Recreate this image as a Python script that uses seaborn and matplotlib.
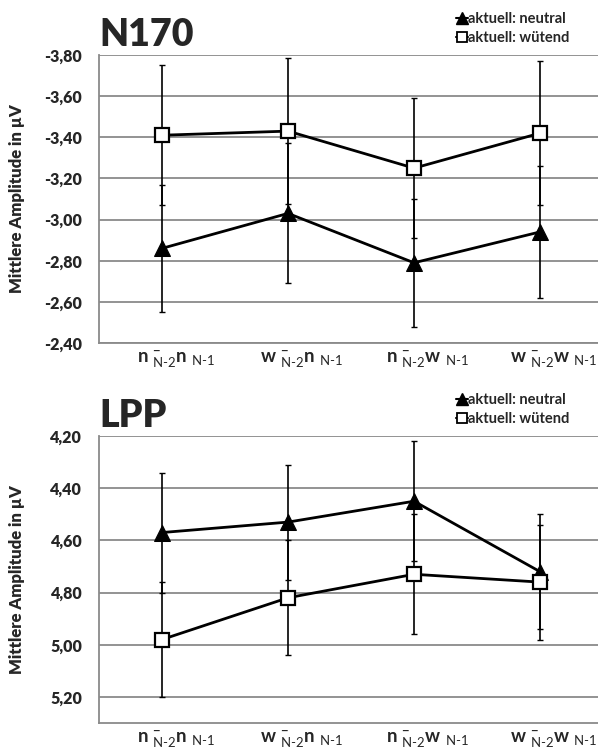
import numpy as np
import pandas as pd
import matplotlib
matplotlib.use("Agg")
from matplotlib import pyplot as plt
from matplotlib.lines import Line2D
import seaborn as sns

# values
conditions = ["nn", "wn", "nw", "ww"]
tick_labels = [
    r"$\mathbf{n}\ {}^{\mathbf{-}}_{\text{N-2}}\mathbf{n}\ {}_{\text{N-1}}$",
    r"$\mathbf{w}\ {}^{\mathbf{-}}_{\text{N-2}}\mathbf{n}\ {}_{\text{N-1}}$",
    r"$\mathbf{n}\ {}^{\mathbf{-}}_{\text{N-2}}\mathbf{w}\ {}_{\text{N-1}}$",
    r"$\mathbf{w}\ {}^{\mathbf{-}}_{\text{N-2}}\mathbf{w}\ {}_{\text{N-1}}$",
]
series_names = ["aktuell: neutral", "aktuell: wütend"]

n170_neutral = [-2.86, -3.03, -2.79, -2.94]
n170_neutral_err = [0.31, 0.34, 0.31, 0.32]
n170_angry = [-3.41, -3.43, -3.25, -3.42]
n170_angry_err = [0.34, 0.355, 0.34, 0.35]
n170_ticks = [-3.8, -3.6, -3.4, -3.2, -3.0, -2.8, -2.6, -2.4]

lpp_neutral = [4.57, 4.53, 4.45, 4.72]
lpp_neutral_err = [0.23, 0.22, 0.23, 0.22]
lpp_angry = [4.98, 4.82, 4.73, 4.76]
lpp_angry_err = [0.22, 0.22, 0.23, 0.22]
lpp_ticks = [4.2, 4.4, 4.6, 4.8, 5.0, 5.2]

sns.set_style("white")
plt.rcParams['font.family'] = ['Lato', 'DejaVu Sans']
plt.rcParams['mathtext.fontset'] = 'custom'
plt.rcParams['mathtext.rm'] = 'Lato'
plt.rcParams['mathtext.bf'] = 'Lato:bold'
plt.rcParams['mathtext.it'] = 'Lato'

grey = "#8a8a8a"

fig = plt.figure(figsize=(5.98, 7.53), dpi=100)
ax1 = fig.add_axes([99/598, 1-343/753, 499/598, 288/753])
ax2 = fig.add_axes([99/598, 1-723/753, 499/598, 287/753])


def panel(ax, neutral, neutral_err, angry, angry_err, ylim, yticks, title):
    pos = np.arange(len(conditions))
    df = pd.DataFrame({"pos": np.tile(pos, 2),
                       "value": neutral + angry,
                       "series": [series_names[0]] * 4 + [series_names[1]] * 4})
    ax.errorbar(pos, neutral, yerr=neutral_err, fmt="none", ecolor="black",
                elinewidth=1.2, capsize=2, capthick=1, zorder=2)
    ax.errorbar(pos, angry, yerr=angry_err, fmt="none", ecolor="black",
                elinewidth=1.2, capsize=2, capthick=1, zorder=2)
    sns.lineplot(data=df[df.series == series_names[0]], x="pos", y="value",
                 color="black", lw=2, marker="^", markersize=11,
                 markerfacecolor="black", markeredgecolor="black",
                 ax=ax, zorder=3, legend=False)
    sns.lineplot(data=df[df.series == series_names[1]], x="pos", y="value",
                 color="black", lw=2, marker="s", markersize=9.5,
                 markerfacecolor="white", markeredgecolor="black",
                 markeredgewidth=1.6, ax=ax, zorder=4, legend=False)

    ax.set_xlim(-0.5, 3.46)
    ax.set_ylim(*ylim)
    ax.set_yticks(yticks)
    ax.set_yticklabels([f"{v:.2f}".replace(".", ",") for v in yticks],
                       fontsize=11.5, fontweight="heavy")
    # labels in the original sit a bit right of the data column
    ax.set_xticks(pos + 0.11)
    ax.set_xticklabels(tick_labels, fontsize=13.5)
    ax.tick_params(axis="both", length=0)
    ax.tick_params(axis="y", pad=12)
    ax.tick_params(axis="x", pad=4)
    ax.set_xlabel("")
    ax.set_ylabel("Mittlere Amplitude in µV", fontsize=12, fontweight="heavy")
    ax.yaxis.set_label_coords(-0.148, 0.5)

    ax.yaxis.grid(True, color=grey, lw=1.3)
    ax.set_axisbelow(True)
    for s in ["top", "right"]:
        ax.spines[s].set_visible(False)
    for s in ["left", "bottom"]:
        ax.spines[s].set_color(grey)
        ax.spines[s].set_linewidth(1.3)

    ax.set_title(title, loc="left", fontsize=27, fontweight="heavy", pad=6.5)

    handles = [
        Line2D([], [], color="black", lw=1.5, marker="^", markersize=8),
        Line2D([], [], color="black", lw=1.5, marker="s", markersize=7,
               markerfacecolor="white", markeredgewidth=1.3),
    ]
    ax.legend(handles, series_names, loc="upper right",
              bbox_to_anchor=(0.955, 1.17), frameon=False,
              handlelength=0.8, handletextpad=0.05, labelspacing=0.35,
              borderaxespad=0, prop={"weight": "bold", "size": 10.5})


panel(ax1, n170_neutral, n170_neutral_err, n170_angry, n170_angry_err,
      (-2.4, -3.8), n170_ticks, "N170")
panel(ax2, lpp_neutral, lpp_neutral_err, lpp_angry, lpp_angry_err,
      (5.3, 4.2), lpp_ticks, "LPP")

fig.savefig("out.png", dpi=100, facecolor="white")
